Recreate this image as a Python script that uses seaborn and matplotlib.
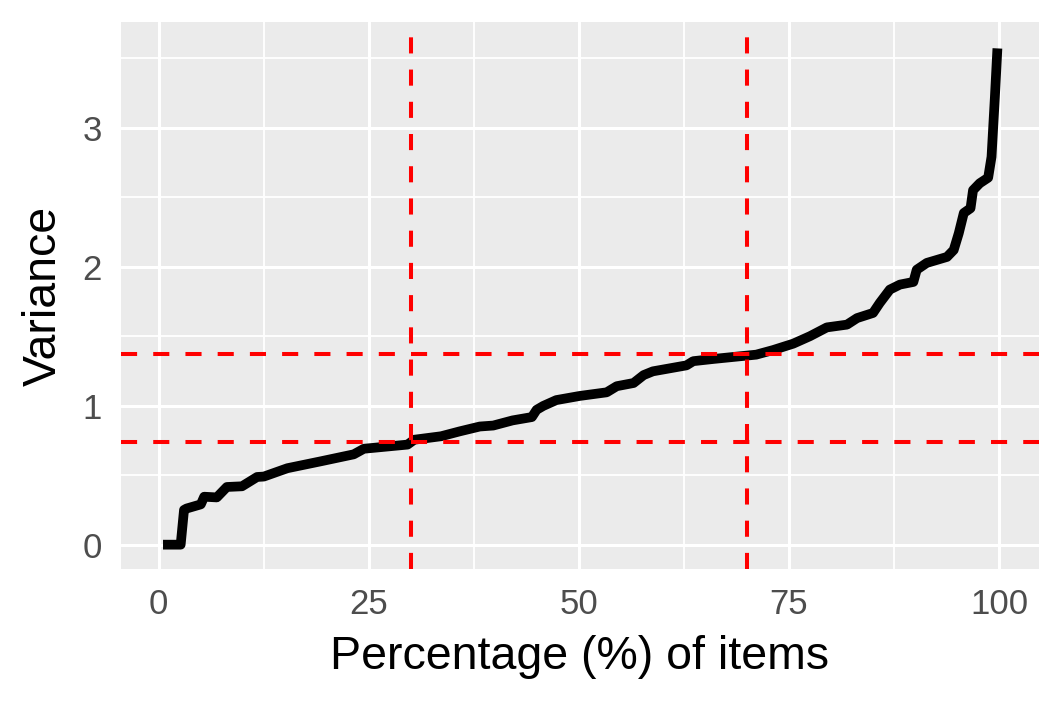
import matplotlib
matplotlib.use("Agg")
import matplotlib.pyplot as plt
import pandas as pd
import seaborn as sns

# values
x_pct = [0.5, 2.6, 3.0, 3.3, 5.0, 5.4, 6.9, 8.1, 9.9, 11.7, 12.5, 15.3, 19.3,
         23.2, 24.4, 29.6, 30.4, 33.6, 35.8, 38.2, 39.8, 42.1, 44.4, 44.96,
         45.75, 47.3, 50.1, 53.3, 54.5, 56.5, 57.7, 58.8, 62.8, 63.6, 66.0,
         71.1, 73.1, 75.5, 77.5, 79.5, 81.9, 83.1, 85.0, 85.8, 87.0, 88.2,
         89.8, 90.2, 91.4, 93.8, 94.6, 95.2, 95.8, 96.6, 96.9, 97.7, 98.7,
         99.1, 99.5, 99.8]
variance = [0, 0, 0.25, 0.26, 0.29, 0.345, 0.34, 0.415, 0.42, 0.487, 0.49,
            0.55, 0.60, 0.65, 0.69, 0.72, 0.755, 0.78, 0.815, 0.85, 0.857,
            0.894, 0.918, 0.97, 0.998, 1.04, 1.07, 1.096, 1.14, 1.163, 1.22,
            1.247, 1.29, 1.32, 1.336, 1.367, 1.40, 1.446, 1.50, 1.563, 1.583,
            1.63, 1.667, 1.739, 1.835, 1.871, 1.89, 1.978, 2.027, 2.07, 2.12,
            2.24, 2.386, 2.42, 2.55, 2.60, 2.64, 2.79, 3.22, 3.57]

cut_x = [30, 70]
cut_y = [0.736, 1.372]

x_ticks = [0, 25, 50, 75, 100]
y_ticks = [0, 1, 2, 3]

df = pd.DataFrame({"pct": x_pct, "var": variance})

sns.set_theme(style="darkgrid", rc={
    "axes.facecolor": "#EBEBEB",
    "grid.color": "white",
})
plt.rcParams["font.family"] = ["Liberation Sans", "DejaVu Sans"]

fig = plt.figure(figsize=(10.62, 7.08), dpi=100)
ax = fig.add_axes([121 / 1062, 1 - 569 / 708, (1039 - 121) / 1062, (569 - 22) / 708])

sns.lineplot(data=df, x="pct", y="var", ax=ax, color="black", linewidth=7,
             estimator=None, sort=False, solid_capstyle="butt",
             solid_joinstyle="round")

for v in cut_x:
    ax.axvline(v, color="red", linewidth=2.9, linestyle=(0, (4, 4)))
for h in cut_y:
    ax.axhline(h, color="red", linewidth=2.9, linestyle=(0, (4, 4)))

ax.set_xlim(-4.5, 104.75)
ax.set_ylim(-0.175, 3.76)
ax.set_xticks(x_ticks)
ax.set_yticks(y_ticks)
ax.set_xticks([12.5, 37.5, 62.5, 87.5], minor=True)
ax.set_yticks([0.5, 1.5, 2.5, 3.5], minor=True)
ax.grid(which="major", color="white", linewidth=2.2)
ax.grid(which="minor", color="white", linewidth=1.3)
for s in ax.spines.values():
    s.set_visible(False)

ax.tick_params(which="major", length=8, width=2.0, color="#333333",
               labelsize=25, labelcolor="#4D4D4D", pad=6)
ax.tick_params(which="minor", length=0)

ax.set_xlabel("Percentage (%) of items", fontsize=33.5, color="black", labelpad=10)
ax.set_ylabel("Variance", fontsize=33.5, color="black", labelpad=12)

fig.savefig("out.png", dpi=100)
